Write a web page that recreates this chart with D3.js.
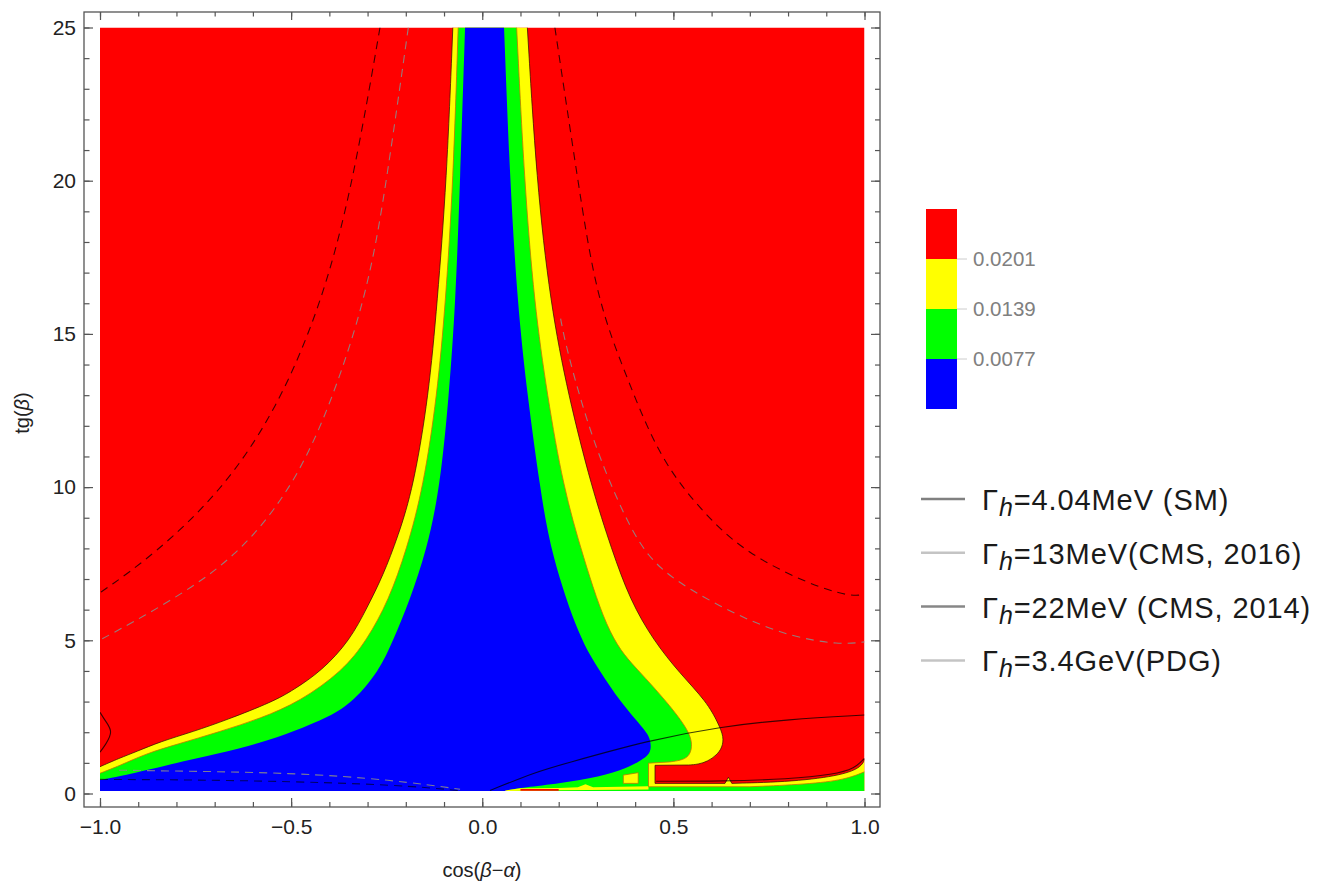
<!DOCTYPE html>
<html>
<head>
<meta charset="utf-8">
<script src="https://cdn.jsdelivr.net/npm/d3@7"></script>
<style>
  body { margin: 0; background: #fff; }
  text { font-family: "Liberation Sans", Arial, Helvetica, sans-serif; }
</style>
</head>
<body>
<div id="main"></div>
<script>
var ctx = {
    w: 1321,
    h: 883,
    frame: {x0: 84, y0: 12, x1: 880, y1: 807},
    plot: {x0: 100, x1: 864.5, y0: 27.5, y1: 793.5},
    yFloor: 0.08
};

// contour levels and colours (colour bar, bottom to top)
var levels = [0.0077, 0.0139, 0.0201];
var bandColors = ["#0000ff", "#00ff00", "#ffff00", "#ff0000"];

// contour boundaries as [cos(b-a), tg(b)], top to bottom
// 0.0201 contour (red | yellow)
var yellowLeft = [[-0.077,25],[-0.093,20],[-0.118,16],[-0.14,13],[-0.18,10],[-0.22,8.4],[-0.26,7.1],[-0.3,6.1],[-0.346,5.0],
    [-0.42,4.0],[-0.494,3.38],[-0.547,3.0],[-0.669,2.4],[-0.756,2.02],[-0.843,1.69],[-0.904,1.37],[-0.95,1.15],[-1,0.875]];
var yellowRight = [[0.118,25],[0.142,20],[0.178,16],[0.225,13],[0.286,10],[0.339,7.95],[0.3865,6.32],[0.4475,5.0],[0.517,3.92],
    [0.587,3.0],[0.6175,2.29],[0.632,1.85],[0.628,1.5],[0.613,1.25],[0.59,1.05],[0.565,0.95],[0.54,0.93]];
var yellowNotch = [[0.54,0.93],[0.452,0.92],[0.452,0.33],[0.635,0.33],[0.644,0.53],[0.653,0.33]];
var yellowRightLow = [[0.653,0.33],[0.814,0.385],[0.945,0.6],[0.993,0.875],[1,1.12]];
// 0.0139 contour (yellow | green)
var greenLeft = [[-0.063,25],[-0.076,20],[-0.096,16],[-0.118,13],[-0.154,10],[-0.198,7.95],[-0.245,6.3],[-0.302,5.0],[-0.365,4.0],
    [-0.477,3.0],[-0.58,2.45],[-0.686,2.02],[-0.8,1.6],[-0.878,1.31],[-0.95,0.9],[-1,0.66]];
var greenRight = [[0.09,25],[0.11,20],[0.136,16],[0.17,13],[0.212,10],[0.262,7.8],[0.334,5.0],[0.41,4.0],[0.4825,3.0],[0.5435,2.02],
    [0.55,1.5],[0.54,1.2],[0.52,1.08],[0.49,1.03]];
var greenNotch = [[0.49,1.03],[0.435,0.99],[0.435,0.22],[0.7,0.22]];
var greenRightLow = [[0.7,0.22],[0.85,0.3],[0.95,0.45],[1,0.71]];
// 0.0077 contour (green | blue)
var blueLeft = [[-0.045,25],[-0.058,20],[-0.07,16],[-0.087,13],[-0.1105,10],[-0.145,7.95],[-0.19,6.3],[-0.233,5.0],[-0.27,4.0],
    [-0.337,3.0],[-0.4,2.5],[-0.494,2.02],[-0.58,1.65],[-0.686,1.31],[-0.843,0.875],[-0.95,0.55],[-1,0.44]];
var blueRight = [[0.057,25],[0.0726,20],[0.092,16],[0.118,13],[0.151,10],[0.18,7.8],[0.2557,5.0],[0.308,4.0],[0.36,3.0],[0.43,2.02],
    [0.44,1.75],[0.442,1.42],[0.432,1.22],[0.41,1.05],[0.378,0.82],[0.308,0.55],[0.2034,0.33],[0.1075,0.2],[0.064,0.1]];

// small patches along the bottom edge
var yellowIsland = [[0.369,0.33],[0.369,0.6],[0.408,0.68],[0.408,0.33]];
var yellowStrip = [[0.06,0.1],[0.1,0.17],[0.2,0.18],[0.25,0.2],[0.27,0.3],[0.29,0.2],[0.435,0.24],[0.435,0.13],[0.2,0.11],[0.06,0.08]];
var redBits = [[0.1,0.09],[0.1,0.15],[0.2,0.15],[0.2,0.09]];

// width contours (legend curves)
var blackDashLeft = [[-0.2675,25],[-0.337,20],[-0.416,16.1],[-0.538,12.5],[-0.686,9.8],[-0.861,7.78],[-0.9825,6.7],[-1,6.55]];
var grayDashLeft = [[-0.1934,25],[-0.25,20],[-0.302,16.1],[-0.433,11.43],[-0.5466,9.14],[-0.651,7.73],[-0.756,6.75],[-0.887,5.77],[-1,5.01]];
var blackDashRight = [[0.19,25],[0.25,20],[0.2994,16.1],[0.378,13.6],[0.465,10.88],[0.587,9.03],[0.692,7.84],[0.849,6.86],[0.962,6.42],[1,6.5]];
var grayDashRight = [[0.205,15.5],[0.2209,14.47],[0.282,11.76],[0.352,9.58],[0.43,7.62],[0.5435,6.64],[0.674,5.77],[0.805,5.12],[0.936,4.85],[1,4.95]];
var blackDashBottom = [[-1,0.46],[-0.669,0.44],[-0.32,0.33],[-0.145,0.2],[-0.058,0.09]];
var grayDashBottom = [[-0.95,0.76],[-0.843,0.74],[-0.494,0.68],[-0.233,0.44],[-0.058,0.14]];
var solidMain = [[0.0203,0.1],[0.1424,0.71],[0.2034,0.93],[0.4388,1.75],[0.622,2.18],[0.8,2.42],[1,2.56]];
var solidBottomRight = [[0.455,0.4],[0.63,0.4],[0.8,0.47],[0.92,0.62],[0.975,0.82],[1,1.15]];
var solidLeft = [[-1,2.65],[-0.985,2.35],[-0.966,2.02],[-0.985,1.6],[-1,1.35]];

// ticks
var xMajor = [-1, -0.5, 0, 0.5, 1];
var xMinor = d3.range(-10, 11).map(function(i){ return i / 10; });
var yMajor = [0, 5, 10, 15, 20, 25];
var yMinor = d3.range(0, 26);

// legend
var legendLabels = ["=4.04MeV (SM)", "=13MeV(CMS, 2016)", "=22MeV (CMS, 2014)", "=3.4GeV(PDG)"];
var legendColors = ["#808080", "#c4c4c4", "#878787", "#c4c4c4"];

var createViz = function(){
    var svg = d3.select("#main").append("svg")
        .attr("width", ctx.w)
        .attr("height", ctx.h);

    var x = d3.scaleLinear().domain([-1, 1]).range([ctx.plot.x0, ctx.plot.x1]);
    var y = d3.scaleLinear().domain([0, 25]).range([ctx.plot.y1, ctx.plot.y0]);

    var smooth = d3.line()
        .x(function(d){ return x(d[0]); })
        .y(function(d){ return y(d[1]); })
        .curve(d3.curveBasis);
    var straight = d3.line()
        .x(function(d){ return x(d[0]); })
        .y(function(d){ return y(d[1]); });

    function rev(a){ return a.slice().reverse(); }
    // path piece; all but the first one continue the current path
    function seg(pts, isSmooth, first){
        var p = (isSmooth ? smooth : straight)(pts);
        return first ? p : p.replace(/^M/, "L");
    }
    function floorTo(xv){ return "L" + x(xv) + "," + y(ctx.yFloor); }

    var yellowPath = seg(yellowLeft, true, true) + floorTo(-1) + floorTo(1)
        + seg(rev(yellowRightLow), true) + seg(rev(yellowNotch), false) + seg(rev(yellowRight), true) + "Z";
    var greenPath = seg(greenLeft, true, true) + floorTo(-1) + floorTo(1)
        + seg(rev(greenRightLow), true) + seg(rev(greenNotch), false) + seg(rev(greenRight), true) + "Z";
    var bluePath = seg(blueLeft, true, true) + floorTo(-1) + floorTo(blueRight[blueRight.length - 1][0])
        + seg(rev(blueRight), true) + "Z";

    svg.append("clipPath").attr("id", "plotclip")
        .append("rect")
        .attr("x", x(-1)).attr("y", y(25))
        .attr("width", x(1) - x(-1)).attr("height", y(ctx.yFloor) - y(25));

    var g = svg.append("g").attr("clip-path", "url(#plotclip)");

    g.append("rect")
        .attr("x", x(-1)).attr("y", y(25))
        .attr("width", x(1) - x(-1)).attr("height", y(ctx.yFloor) - y(25))
        .style("fill", bandColors[3]);
    g.append("path").attr("d", yellowPath).style("fill", bandColors[2]);
    g.append("path").attr("d", greenPath).style("fill", bandColors[1]);
    g.append("path").attr("d", bluePath).style("fill", bandColors[0]);
    g.append("path").attr("d", straight(yellowStrip) + "Z").style("fill", bandColors[2]);
    g.append("path").attr("d", straight(redBits) + "Z").style("fill", bandColors[3]);
    g.append("path").attr("d", straight(yellowIsland) + "Z").style("fill", bandColors[2])
        .style("stroke", "#b07a00").style("stroke-width", 0.8);

    // contour outlines
    var redEdge = seg(yellowLeft, true, true) + " " + seg(yellowRight, true, true) + seg(yellowNotch, false)
        + seg(yellowRightLow, true);
    g.append("path").attr("d", redEdge)
        .style("fill", "none").style("stroke", "#3a0d00").style("stroke-opacity", 0.75).style("stroke-width", 1);
    var yellowEdge = seg(greenLeft, true, true) + " " + seg(greenRight, true, true) + seg(greenNotch, false)
        + seg(greenRightLow, true);
    g.append("path").attr("d", yellowEdge)
        .style("fill", "none").style("stroke", "#c07800").style("stroke-opacity", 0.8).style("stroke-width", 1);

    // width contours
    var lines = [
        {d: blackDashLeft, c: "#000", o: 0.75, dash: "8,6"},
        {d: grayDashLeft, c: "#8a8a8a", o: 0.9, dash: "8,6"},
        {d: blackDashRight, c: "#000", o: 0.75, dash: "8,6"},
        {d: grayDashRight, c: "#8a8a8a", o: 0.9, dash: "8,6"},
        {d: blackDashBottom, c: "#000", o: 0.6, dash: "8,6"},
        {d: grayDashBottom, c: "#8a8a8a", o: 0.9, dash: "8,6"},
        {d: solidMain, c: "#000", o: 0.75, dash: null},
        {d: solidBottomRight, c: "#000", o: 0.7, dash: null},
        {d: solidLeft, c: "#000", o: 0.75, dash: null}
    ];
    lines.forEach(function(l){
        g.append("path").attr("d", smooth(l.d))
            .style("fill", "none").style("stroke", l.c).style("stroke-opacity", l.o)
            .style("stroke-width", 1.1).style("stroke-dasharray", l.dash);
    });

    // frame
    var f = ctx.frame;
    svg.append("rect")
        .attr("x", f.x0).attr("y", f.y0)
        .attr("width", f.x1 - f.x0).attr("height", f.y1 - f.y0)
        .style("fill", "none").style("stroke", "#555").style("stroke-width", 1.3);

    function addAxis(axis, tx, ty, labels){
        var a = svg.append("g").attr("transform", "translate(" + tx + "," + ty + ")").call(axis);
        a.select(".domain").remove();
        a.selectAll("line").style("stroke", "#555").style("stroke-width", 1.2);
        a.selectAll("text").style("font-size", labels ? "21px" : "0px").style("fill", "#222")
            .style("font-family", "'Liberation Sans', Arial, sans-serif");
        return a;
    }
    var fmt = d3.format(".1f");
    addAxis(d3.axisBottom(x).tickValues(xMinor).tickSizeInner(-5).tickSizeOuter(0).tickFormat(""), 0, f.y1, false);
    addAxis(d3.axisBottom(x).tickValues(xMajor).tickSizeInner(-9).tickSizeOuter(0).tickPadding(12).tickFormat(fmt), 0, f.y1, true);
    addAxis(d3.axisTop(x).tickValues(xMinor).tickSizeInner(-4.5).tickSizeOuter(0).tickFormat(""), 0, f.y0, false);
    addAxis(d3.axisTop(x).tickValues(xMajor).tickSizeInner(-8).tickSizeOuter(0).tickFormat(""), 0, f.y0, false);
    addAxis(d3.axisLeft(y).tickValues(yMinor).tickSizeInner(-5.5).tickSizeOuter(0).tickFormat(""), f.x0, 0, false);
    addAxis(d3.axisLeft(y).tickValues(yMajor).tickSizeInner(-9).tickSizeOuter(0).tickPadding(8).tickFormat(d3.format("d")), f.x0, 0, true);
    addAxis(d3.axisRight(y).tickValues(yMinor).tickSizeInner(-5).tickSizeOuter(0).tickFormat(""), f.x1, 0, false);
    addAxis(d3.axisRight(y).tickValues(yMajor).tickSizeInner(-9).tickSizeOuter(0).tickFormat(""), f.x1, 0, false);

    // axis titles
    var xt = svg.append("text")
        .attr("x", (f.x0 + f.x1) / 2).attr("y", 877)
        .attr("text-anchor", "middle")
        .style("font-size", "20px").style("fill", "#222");
    xt.append("tspan").text("cos(");
    xt.append("tspan").style("font-style", "italic").text("β");
    xt.append("tspan").text("−");
    xt.append("tspan").style("font-style", "italic").text("α");
    xt.append("tspan").text(")");

    var yt = svg.append("text")
        .attr("transform", "translate(29," + 413 + ") rotate(-90)")
        .attr("text-anchor", "middle")
        .style("font-size", "20px").style("fill", "#222");
    yt.append("tspan").text("tg(");
    yt.append("tspan").style("font-style", "italic").text("β");
    yt.append("tspan").text(")");

    // colour bar
    var cb = d3.scaleLinear().domain([0, 4]).range([409, 209]);
    var bar = svg.append("g");
    bar.selectAll("rect").data(bandColors).enter().append("rect")
        .attr("x", 926).attr("width", 31)
        .attr("y", function(d, i){ return cb(i + 1); })
        .attr("height", function(d, i){ return cb(i) - cb(i + 1); })
        .style("fill", function(d){ return d; });
    bar.selectAll("line").data(levels).enter().append("line")
        .attr("x1", 957).attr("x2", 967)
        .attr("y1", function(d, i){ return cb(i + 1); })
        .attr("y2", function(d, i){ return cb(i + 1); })
        .style("stroke", "#ccc").style("stroke-width", 1);
    bar.selectAll("text").data(levels).enter().append("text")
        .attr("x", 973)
        .attr("y", function(d, i){ return cb(i + 1); })
        .attr("dy", "0.36em")
        .style("font-size", "20.5px").style("fill", "#808080")
        .text(function(d){ return d3.format(".4f")(d); });

    // line legend
    var leg = svg.selectAll("g.leg").data(legendLabels).enter().append("g")
        .classed("leg", true)
        .attr("transform", function(d, i){ return "translate(0," + (510 + i * 53.8) + ")"; });
    leg.append("line")
        .attr("x1", 921).attr("x2", 965).attr("y1", -11).attr("y2", -11)
        .style("stroke", function(d, i){ return legendColors[i]; })
        .style("stroke-width", 2.5);
    var lt = leg.append("text").attr("x", 982)
        .style("font-size", "29px").style("letter-spacing", "0.9px").style("fill", "#1a1a1a");
    lt.append("tspan").text("Γ");
    lt.append("tspan").attr("dy", 6).style("font-style", "italic").style("font-size", "25px").text("h");
    lt.append("tspan").attr("dy", -6).text(function(d){ return d; });
};

createViz();
</script>
</body>
</html>
